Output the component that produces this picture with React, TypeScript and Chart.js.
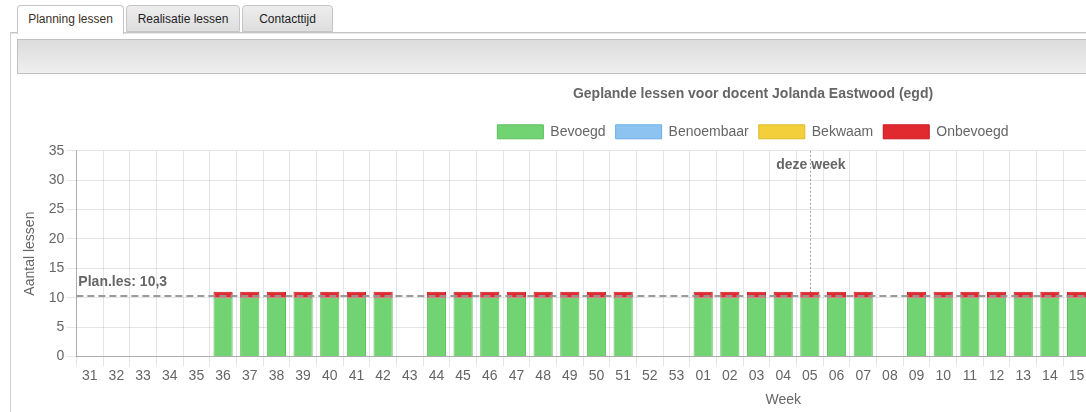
import React, { useEffect, useRef } from 'react';
import { Chart, registerables } from 'chart.js';

Chart.register(...registerables);

// ---- data ----
const weeks = [
  '31', '32', '33', '34', '35', '36', '37', '38', '39', '40', '41', '42', '43', '44', '45', '46', '47', '48', '49', '50', '51', '52', '53',
  '01', '02', '03', '04', '05', '06', '07', '08', '09', '10', '11', '12', '13', '14', '15', '16', '17', '18', '19', '20', '21', '22', '23', '24', '25', '26', '27', '28', '29', '30',
];
const bevoegd = [
  0, 0, 0, 0, 0, 10, 10, 10, 10, 10, 10, 10, 0, 10, 10, 10, 10, 10, 10, 10, 10, 0, 0,
  10, 10, 10, 10, 10, 10, 10, 0, 10, 10, 10, 10, 10, 10, 10, 10, 10, 0, 10, 10, 10, 10, 10, 10, 10, 10, 10, 0, 0, 0,
];
const benoembaar = [
  0, 0, 0, 0, 0, 0, 0, 0, 0, 0, 0, 0, 0, 0, 0, 0, 0, 0, 0, 0, 0, 0, 0,
  0, 0, 0, 0, 0, 0, 0, 0, 0, 0, 0, 0, 0, 0, 0, 0, 0, 0, 0, 0, 0, 0, 0, 0, 0, 0, 0, 0, 0, 0,
];
const bekwaam = [
  0, 0, 0, 0, 0, 0, 0, 0, 0, 0, 0, 0, 0, 0, 0, 0, 0, 0, 0, 0, 0, 0, 0,
  0, 0, 0, 0, 0, 0, 0, 0, 0, 0, 0, 0, 0, 0, 0, 0, 0, 0, 0, 0, 0, 0, 0, 0, 0, 0, 0, 0, 0, 0,
];
const onbevoegd = [
  0, 0, 0, 0, 0, 1, 1, 1, 1, 1, 1, 1, 0, 1, 1, 1, 1, 1, 1, 1, 1, 0, 0,
  1, 1, 1, 1, 1, 1, 1, 0, 1, 1, 1, 1, 1, 1, 1, 1, 1, 0, 1, 1, 1, 1, 1, 1, 1, 1, 1, 0, 0, 0,
];
const yMin = 0;
const yMax = 35;
const yStep = 5;
const planLes = 10.3;
const planLabel = 'Plan.les: 10,3';
const currentWeek = '05';
const currentLabel = 'deze week';
const chartTitle = 'Geplande lessen voor docent Jolanda Eastwood (egd)';
const tabs = ['Planning lessen', 'Realisatie lessen', 'Contacttijd'];

const FONT = "'Liberation Sans', Arial, Helvetica, sans-serif";
const GREY = '#666';

const markers = {
  id: 'markers',
  beforeDatasetsDraw(chart: any) {
    const { ctx, chartArea, scales } = chart;
    const x = Math.round(scales.x.getPixelForValue(weeks.indexOf(currentWeek))) + 0.5;
    ctx.save();
    ctx.strokeStyle = 'rgba(140,140,140,0.85)';
    ctx.lineWidth = 1;
    ctx.setLineDash([2, 2]);
    ctx.beginPath();
    ctx.moveTo(x, chartArea.top);
    ctx.lineTo(x, chartArea.bottom);
    ctx.stroke();
    ctx.restore();
  },
  afterDatasetsDraw(chart: any) {
    const { ctx, chartArea, scales } = chart;
    const y = scales.y.getPixelForValue(planLes);
    ctx.save();
    ctx.strokeStyle = 'rgba(150,150,150,0.95)';
    ctx.lineWidth = 2;
    ctx.setLineDash([7, 4]);
    ctx.beginPath();
    ctx.moveTo(chartArea.left, y);
    ctx.lineTo(chartArea.right, y);
    ctx.stroke();
    ctx.setLineDash([]);
    ctx.fillStyle = GREY;
    ctx.font = `bold 14px ${FONT}`;
    ctx.textBaseline = 'alphabetic';
    ctx.textAlign = 'left';
    ctx.fillText(planLabel, chartArea.left + 2, y - 10);
    const x = scales.x.getPixelForValue(weeks.indexOf(currentWeek));
    ctx.textAlign = 'center';
    ctx.fillText(currentLabel, x + 1, chartArea.top + 18);
    ctx.restore();
  },
};

const legendHeight = {
  id: 'legendHeight',
  beforeLayout(chart: any) {
    const lg = chart.legend;
    if (lg && !lg.__patched) {
      const orig = lg.fit;
      lg.fit = function () {
        orig.call(this);
        this.height = 36;
      };
      lg.__patched = true;
    }
  },
};

function ChartCanvas() {
  const ref = useRef<HTMLCanvasElement>(null);
  useEffect(() => {
    if (!ref.current) return;
    const ds = (label: string, data: number[], bg: string, border: string) => ({
      label,
      data,
      backgroundColor: bg,
      borderColor: border,
      borderWidth: 1,
    });
    const chart = new Chart(ref.current, {
      type: 'bar',
      data: {
        labels: weeks,
        datasets: [
          ds('Bevoegd', bevoegd, '#72d372', '#5cbf5c'),
          ds('Benoembaar', benoembaar, '#8cc3f1', '#6eaee6'),
          ds('Bekwaam', bekwaam, '#f3cf3c', '#e0b92a'),
          ds('Onbevoegd', onbevoegd, '#e12a30', '#c8181e'),
        ],
      },
      options: {
        responsive: false,
        animation: false,
        layout: { padding: { left: 8, right: 0, top: 0, bottom: 0 } },
        plugins: {
          title: {
            display: true,
            text: chartTitle,
            color: GREY,
            font: { family: FONT, size: 14, weight: 'bold' },
            padding: { top: 12, bottom: 12 },
          },
          legend: {
            display: true,
            labels: {
              color: GREY,
              font: { family: FONT, size: 14 },
              boxWidth: 46,
              boxHeight: 14,
              padding: 10,
            },
          },
          tooltip: { enabled: false },
        },
        scales: {
          x: {
            stacked: true,
            grid: { color: 'rgba(0,0,0,0.1)', tickLength: 10, offset: true },
            border: { color: 'rgba(0,0,0,0.25)' },
            ticks: {
              color: GREY,
              font: { family: FONT, size: 14 },
              autoSkip: false,
              maxRotation: 0,
              padding: 1,
            },
            title: {
              display: true,
              text: 'Week',
              color: GREY,
              font: { family: FONT, size: 14 },
              padding: { top: 7, bottom: 4 },
            },
          },
          y: {
            stacked: true,
            min: yMin,
            max: yMax,
            grid: { color: 'rgba(0,0,0,0.1)', tickLength: 10 },
            border: { color: 'rgba(0,0,0,0.25)' },
            ticks: {
              stepSize: yStep,
              color: GREY,
              font: { family: FONT, size: 14 },
              padding: 2,
            },
            title: {
              display: true,
              text: 'Aantal lessen',
              color: GREY,
              font: { family: FONT, size: 14 },
              padding: { top: 6, bottom: 8 },
            },
          },
        },
      },
      plugins: [markers, legendHeight],
    });
    return () => chart.destroy();
  }, []);
  return (
    <canvas
      ref={ref}
      width={1482}
      height={339}
      style={{ position: 'absolute', left: 8, top: 74, width: 1482, height: 339 }}
    />
  );
}

const tabPos = [
  { left: 17, width: 107 },
  { left: 126, width: 114 },
  { left: 242, width: 91 },
];

export default function App() {
  return (
    <div
      style={{
        position: 'fixed',
        left: 0,
        top: 0,
        width: 1086,
        height: 412,
        overflow: 'hidden',
        background: '#fff',
        fontFamily: FONT,
      }}
    >
      {/* panel borders */}
      <div style={{ position: 'absolute', left: 10, top: 32, width: 1100, height: 1, background: '#c5c5c5' }} />
      <div style={{ position: 'absolute', left: 10, top: 33, width: 1100, height: 1, background: '#e6e6e6' }} />
      <div style={{ position: 'absolute', left: 10, top: 32, width: 1, height: 400, background: '#d0d0d0' }} />
      {/* tabs */}
      {tabs.map((t, i) => {
        const active = i === 0;
        return (
          <div
            key={t}
            style={{
              position: 'absolute',
              left: tabPos[i].left,
              top: 5,
              width: tabPos[i].width,
              height: active ? 29 : 27,
              boxSizing: 'border-box',
              border: '1px solid #c5c5c5',
              borderBottom: active ? 'none' : '1px solid #c5c5c5',
              borderRadius: '4px 4px 0 0',
              background: active ? '#fff' : 'linear-gradient(#ededed, #dedede)',
              color: active ? '#3b3024' : '#222',
              fontSize: 12,
              lineHeight: '26px',
              textAlign: 'center',
              whiteSpace: 'nowrap',
            }}
          >
            {t}
          </div>
        );
      })}
      {/* grey header bar */}
      <div
        style={{
          position: 'absolute',
          left: 17,
          top: 39,
          width: 1100,
          height: 35,
          boxSizing: 'border-box',
          border: '1px solid #c0c0c0',
          background: 'linear-gradient(#dcdcdc, #efefef)',
        }}
      />
      <ChartCanvas />
    </div>
  );
}
